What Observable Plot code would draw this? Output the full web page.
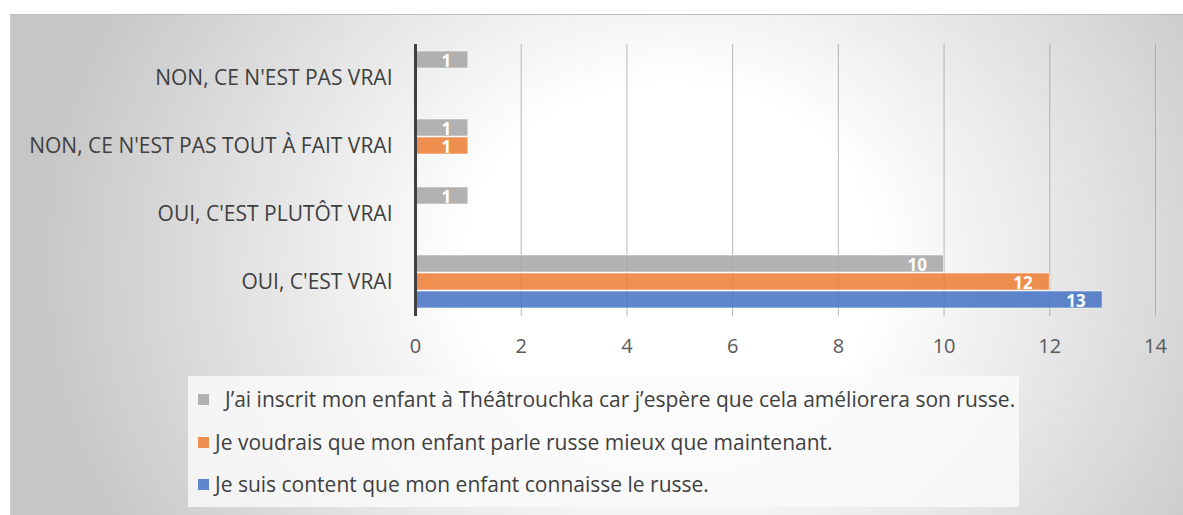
<!DOCTYPE html>
<html>
<head>
<meta charset="utf-8">
<script src="https://cdn.jsdelivr.net/npm/d3@7"></script>
<script src="https://cdn.jsdelivr.net/npm/@observablehq/plot@0.6"></script>
<style>
  html, body { margin: 0; padding: 0; background: #fff; }
  #wrap { position: relative; width: 1183px; height: 515px; overflow: hidden; font-family: "Open Sans", sans-serif; }
  #bg { position: absolute; left: 10px; top: 14px; width: 1173px; height: 501px;
        border-top: 1px solid #bdbdbd; border-left: 1px solid #d0d0d0; box-sizing: border-box;
        background: radial-gradient(ellipse 640px 560px at 660px 250px, #ffffff 0%, #ffffff 32%, #c6c6c6 100%); }
  #chart { position: absolute; left: 10px; top: 14px; }
  #legend { position: absolute; left: 188px; top: 376px; width: 831px; height: 131px;
            background: rgba(250,250,250,0.82); }
  .row { position: absolute; left: 10px; height: 24px; display: flex; align-items: center;
         font-size: 21px; color: #404040; white-space: nowrap; }
  .sw { width: 11px; height: 11px; margin-right: 6px; flex: none; }
</style>
</head>
<body>
<div id="wrap">
  <div id="bg"></div>
  <div id="chart"></div>
  <div id="legend"></div>
</div>
<script>
const categories = ["NON, CE N'EST PAS VRAI", "NON, CE N'EST PAS TOUT À FAIT VRAI", "OUI, C'EST PLUTÔT VRAI", "OUI, C'EST VRAI"];
const seriesNames = [
  "J’ai inscrit mon enfant à Théâtrouchka car j’espère que cela améliorera son russe.",
  "Je voudrais que mon enfant parle russe mieux que maintenant.",
  "Je suis content que mon enfant connaisse le russe."
];
const seriesColors = ["#A5A5A5", "#ED7D31", "#4472C4"];
const valuesTheatrouchka = [1, 1, 1, 10];
const valuesMieux = [null, 1, null, 12];
const valuesContent = [null, null, null, 13];
const xTicks = [0, 2, 4, 6, 8, 10, 12, 14];

const allValues = [valuesTheatrouchka, valuesMieux, valuesContent];
const data = [];
allValues.forEach((vals, i) => {
  vals.forEach((v, j) => {
    if (v != null) data.push({category: categories[j], series: seriesNames[i], value: v});
  });
});

const chart = Plot.plot({
  width: 1173,
  height: 362,
  marginLeft: 405,
  marginRight: 28,
  marginTop: 30,
  marginBottom: 60,
  style: {background: "transparent", fontFamily: "'Open Sans', sans-serif", color: "#404040", overflow: "visible"},
  x: {domain: [0, 14]},
  fy: {domain: categories, padding: 0},
  y: {domain: seriesNames, paddingInner: 0.05, paddingOuter: 0.38, axis: null},
  color: {domain: seriesNames, range: seriesColors},
  marks: [
    Plot.gridX(xTicks.filter(d => d > 0), {stroke: "#a0a0a0", strokeOpacity: 0.75}),
    Plot.barX(data, {x: "value", y: "series", fy: "category", fill: "series", fillOpacity: 0.85, stroke: "white", strokeOpacity: 0.55, strokeWidth: 1}),
    Plot.text(data, {x: "value", y: "series", fy: "category", text: d => String(d.value), textAnchor: "end", dx: -17, dy: 2, fill: "white", fontWeight: "bold", fontSize: 17}),
    Plot.ruleX([0], {stroke: "#404040", strokeWidth: 3}),
    Plot.axisX({ticks: xTicks, tickSize: 0, tickPadding: 22, fontSize: 20, fill: "#595959", label: null}),
    Plot.axisFy({anchor: "left", tickSize: 0, tickPadding: 23, fontSize: 21, fill: "#404040", label: null})
  ]
});
document.getElementById("chart").appendChild(chart);

const legend = document.getElementById("legend");
const rowTops = [11, 54, 96];
seriesNames.forEach((name, i) => {
  const row = document.createElement("div");
  row.className = "row";
  row.style.top = rowTops[i] + "px";
  const sw = document.createElement("span");
  sw.className = "sw";
  sw.style.background = seriesColors[i];
  sw.style.opacity = 0.85;
  if (i === 0) sw.style.marginRight = "16px";
  const t = document.createElement("span");
  t.textContent = name;
  row.appendChild(sw);
  row.appendChild(t);
  legend.appendChild(row);
});
</script>
</body>
</html>
